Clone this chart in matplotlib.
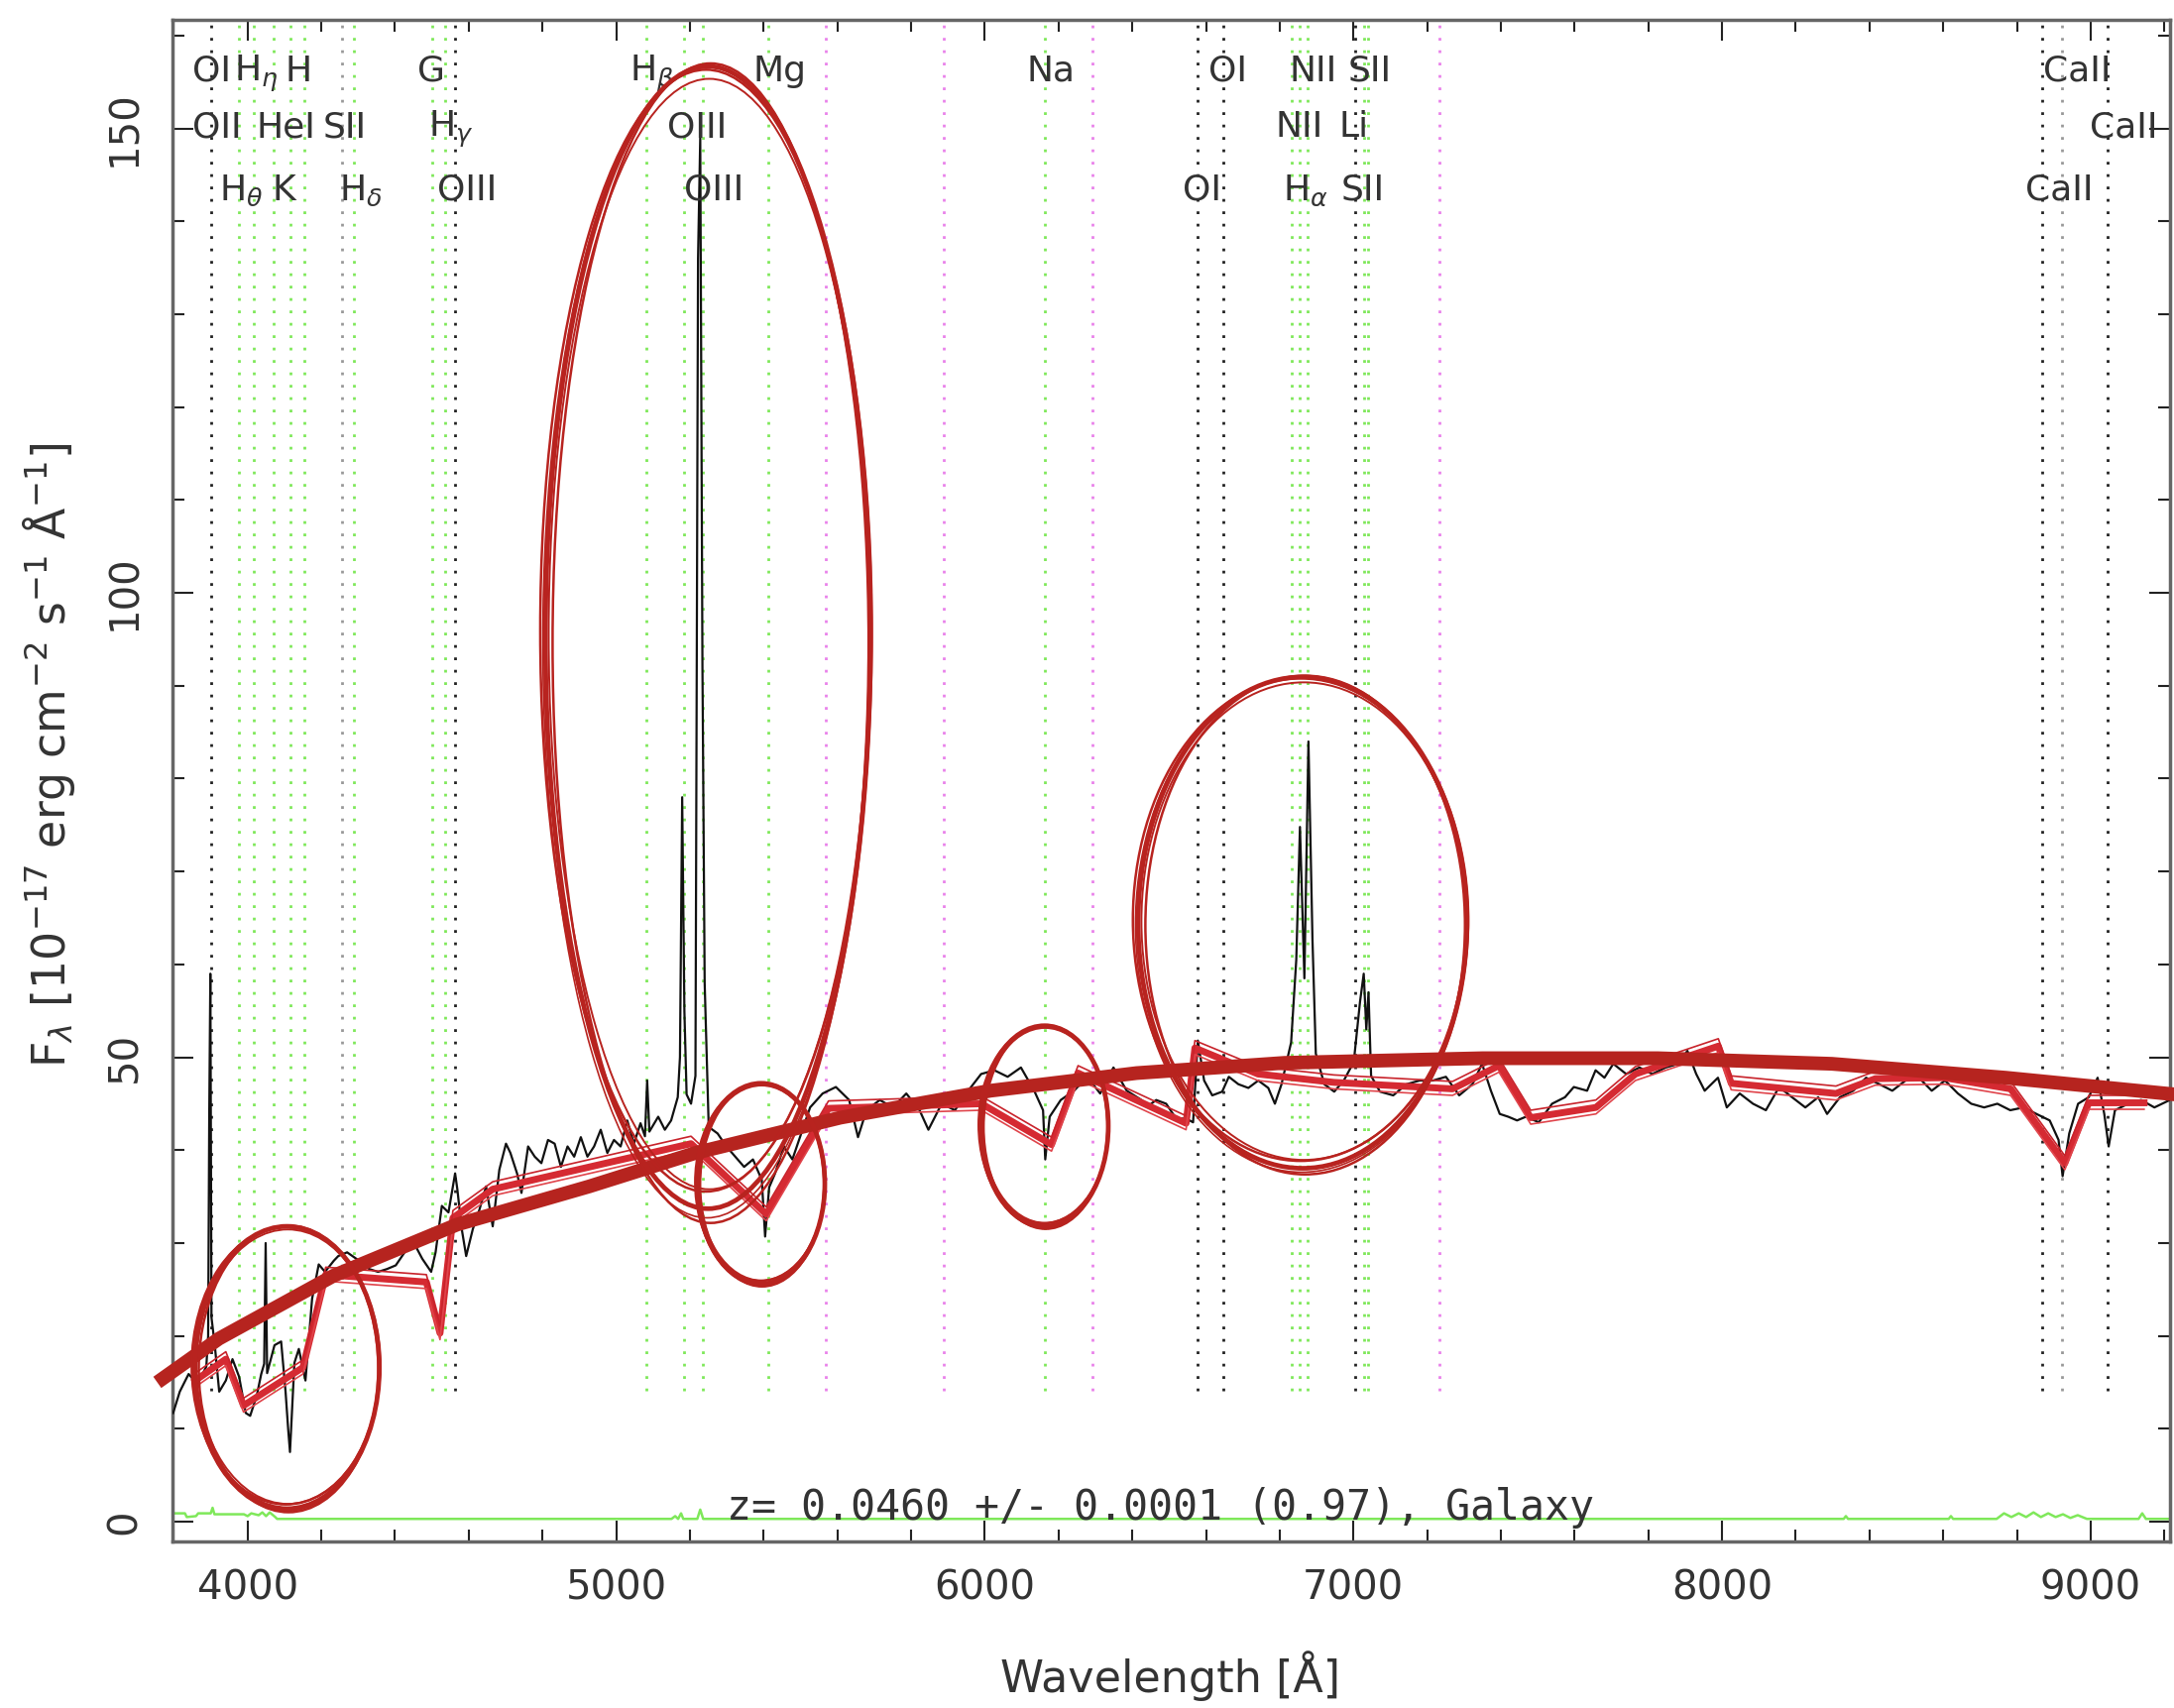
import matplotlib
matplotlib.use("Agg")
import matplotlib.pyplot as plt
from matplotlib.patches import Ellipse
from matplotlib.ticker import MultipleLocator

wave = [3798, 3816, 3840, 3864, 3888, 3893, 3896, 3899, 3902, 3911,
        3923, 3941, 3959, 3977, 3995, 4007, 4025, 4037, 4045, 4049,
        4053, 4073, 4091, 4103, 4110, 4115, 4127, 4139, 4157, 4175,
        4193, 4210, 4234, 4246, 4270, 4306, 4330, 4354, 4378, 4402,
        4426, 4450, 4474, 4498, 4510, 4527, 4545, 4563, 4569, 4581,
        4593, 4611, 4629, 4647, 4665, 4683, 4701, 4713, 4731, 4743,
        4761, 4779, 4797, 4815, 4833, 4850, 4868, 4886, 4904, 4922,
        4940, 4958, 4976, 4994, 5012, 5030, 5048, 5066, 5078, 5084,
        5090, 5114, 5132, 5149, 5167, 5173, 5179, 5185, 5191, 5203,
        5215, 5222, 5228, 5234, 5240, 5251, 5275, 5299, 5323, 5347,
        5371, 5395, 5404, 5415, 5431, 5455, 5478, 5502, 5526, 5560,
        5596, 5632, 5656, 5679, 5715, 5751, 5787, 5823, 5847, 5883,
        5919, 5955, 5990, 6026, 6062, 6098, 6134, 6158, 6164, 6176,
        6206, 6242, 6278, 6313, 6349, 6385, 6421, 6445, 6465, 6492,
        6519, 6546, 6565, 6578, 6595, 6617, 6644, 6662, 6688, 6715,
        6742, 6769, 6787, 6805, 6831, 6845, 6855, 6867, 6878, 6889,
        6898, 6921, 6948, 6974, 7001, 7018, 7028, 7035, 7041, 7048,
        7072, 7108, 7144, 7180, 7216, 7251, 7287, 7323, 7349, 7373,
        7397, 7420, 7444, 7468, 7503, 7539, 7574, 7598, 7634, 7657,
        7681, 7705, 7740, 7776, 7811, 7847, 7882, 7906, 7930, 7953,
        7989, 8013, 8048, 8084, 8119, 8155, 8190, 8226, 8261, 8285,
        8320, 8356, 8391, 8427, 8462, 8498, 8534, 8569, 8605, 8640,
        8676, 8711, 8747, 8782, 8818, 8853, 8889, 8913, 8924, 8942,
        8966, 8995, 9019, 9037, 9049, 9066, 9102, 9137, 9173, 9215]
flux = [11.7, 14.0, 15.9, 14.8, 16.7, 20.0, 44.0, 59.0, 22.0, 19.0,
        14.0, 15.2, 17.5, 15.6, 11.7, 11.4, 13.6, 15.9, 17.0, 30.0,
        16.0, 19.0, 19.4, 14.0, 10.0, 7.5, 17.1, 18.6, 15.2, 24.0,
        27.7, 26.9, 28.1, 28.6, 29.0, 28.0, 27.2, 26.9, 27.2, 27.6,
        29.0, 30.1, 28.3, 26.9, 29.0, 34.0, 33.3, 37.5, 35.8, 31.5,
        28.6, 31.5, 33.6, 36.1, 31.8, 37.9, 40.7, 39.7, 37.5, 35.4,
        40.4, 39.3, 38.6, 41.1, 40.7, 38.2, 40.4, 39.3, 41.4, 39.3,
        40.4, 42.2, 39.7, 41.1, 40.4, 43.2, 40.7, 42.9, 41.5, 47.5,
        42.0, 43.6, 42.2, 43.2, 45.7, 50.0, 78.0, 55.0, 46.0, 45.0,
        48.0, 136.0, 149.0, 92.0, 58.0, 42.5, 41.8, 40.4, 39.3, 38.2,
        39.0, 36.8, 30.7, 36.0, 37.5, 40.4, 39.0, 41.8, 44.6, 46.1,
        46.8, 45.4, 41.4, 44.3, 45.4, 44.6, 46.1, 44.3, 42.2, 45.0,
        44.3, 46.4, 48.2, 48.6, 47.9, 48.9, 46.4, 44.3, 39.0, 43.6,
        45.4, 46.4, 47.9, 46.1, 48.9, 46.4, 45.5, 44.8, 45.4, 45.0,
        43.4, 43.4, 43.0, 51.8, 47.5, 45.9, 46.3, 47.9, 47.1, 46.7,
        47.5, 46.7, 45.0, 47.1, 51.6, 60.5, 74.8, 58.5, 84.0, 62.6,
        50.4, 47.1, 46.3, 47.5, 49.5, 56.0, 59.0, 53.0, 57.0, 48.0,
        46.3, 45.9, 47.1, 47.5, 47.5, 47.9, 45.9, 47.1, 49.3, 46.4,
        43.9, 43.6, 43.2, 43.6, 43.0, 45.0, 45.7, 46.8, 46.4, 48.6,
        47.8, 49.3, 48.2, 48.9, 48.2, 48.9, 49.3, 50.7, 48.2, 46.4,
        47.8, 44.6, 46.1, 45.0, 44.3, 46.8, 45.7, 44.6, 45.7, 43.9,
        45.7, 46.4, 47.8, 47.1, 46.4, 47.5, 47.8, 46.4, 47.5, 46.1,
        45.0, 44.6, 45.0, 44.3, 44.6, 43.9, 43.2, 41.1, 37.2, 41.8,
        45.0, 45.7, 47.8, 43.9, 40.4, 44.3, 45.0, 45.4, 44.6, 45.4]

# error spectrum (green)
err_wave = [3797, 3830, 3835, 3860, 3866, 3900, 3905, 3910, 3990, 4000,
            4010, 4030, 4040, 4050, 4060, 4075, 4080, 5150, 5160, 5168,
            5176, 5182, 5220, 5228, 5236, 8330, 8336, 8342, 8615, 8621,
            8627, 8745, 8765, 8785, 8805, 8825, 8845, 8865, 8885, 8905,
            8925, 8945, 8965, 8990, 9130, 9140, 9150, 9215]
err_flux = [0.9, 0.9, 0.5, 0.6, 0.9, 0.9, 1.5, 0.8, 0.8, 0.6,
            0.9, 0.7, 1.0, 0.6, 1.0, 0.5, 0.3, 0.3, 0.6, 0.3,
            0.9, 0.3, 0.3, 1.3, 0.3, 0.3, 0.6, 0.3, 0.3, 0.6,
            0.3, 0.3, 0.9, 0.5, 0.9, 0.5, 1.0, 0.5, 0.9, 0.5,
            0.8, 0.4, 0.7, 0.3, 0.3, 0.9, 0.3, 0.3]

# line markers
black_lines = [3900, 4563, 6578, 6647, 7006, 8869, 9045]
gray_lines = [4255, 8922]
green_lines = [3977, 4016, 4070, 4115, 4153, 4288, 4501, 4536, 5083, 5184,
               5235, 5412, 6164, 6832, 6854, 6875, 7030, 7041]
magenta_lines = [5568, 5889, 6291, 7234]

label_text = ["OI", r"H$_\eta$", "H", "G", r"H$_\beta$", "Mg", "Na", "OI", "NII", "SII", "CaII",
              "OII", "HeI", "SII", r"H$_\gamma$", "OIII", "NII", "Li", "CaII",
              r"H$_\theta$", "K", r"H$_\delta$", "OIII", "OIII", "OI", r"H$_\alpha$", "SII", "CaII"]
label_wave = [3850, 3962, 4102, 4461, 5037, 5372, 6114, 6607, 6827, 6985, 8871,
              3850, 4024, 4204, 4490, 5139, 6787, 6961, 8997,
              3922, 4066, 4247, 4514, 5184, 6537, 6808, 6966, 8823]
label_row = [0] * 11 + [1] * 8 + [2] * 9
row_y = [155.1, 149.1, 142.3]

# hand drawn overlay: smooth continuum, jagged trace, circles
fit_wave = [3755, 3922, 4234, 4569, 4927, 5215, 5608, 6015, 6412, 6813,
            7350, 7826, 8298, 8770, 9230]
fit_flux = [15.0, 19.7, 26.5, 32.0, 36.1, 39.7, 43.5, 46.4, 48.3, 49.4,
            49.9, 49.9, 49.3, 47.8, 46.0]

poly_wave = [3858, 3941, 3989, 4150, 4212, 4485, 4522, 4557, 4665, 5203,
             5407, 5576, 5991, 6181, 6253, 6546, 6570, 6741, 6947, 7269,
             7395, 7481, 7658, 7765, 7990, 8025, 8309, 8416, 8603, 8783,
             8930, 8995, 9145]
poly_flux = [15.2, 17.5, 12.5, 16.6, 26.6, 25.8, 20.3, 32.7, 35.8, 40.7,
             33.1, 44.5, 45.0, 40.6, 48.3, 42.9, 51.0, 48.2, 47.3, 46.6,
             49.1, 43.5, 44.6, 48.2, 51.2, 47.2, 46.1, 47.7, 47.8, 46.6,
             38.6, 45.1, 45.1]

ell_wave = [4107, 5249, 5393, 6162, 6862]
ell_flux = [16.6, 95.2, 36.4, 42.6, 64.5]
ell_width = [501, 882, 346, 346, 892]
ell_height = [30.4, 123, 21.6, 21.6, 52.9]

fig = plt.figure(figsize=(21.93, 17.23), dpi=100)
ax = fig.add_axes([0.0793, 0.0975, 0.9188, 0.8909])

for x in black_lines:
    ax.plot([x, x], [14.1, 162], color="#222222", lw=2.0, ls=(0, (1, 3.5)), zorder=1)
for x in gray_lines:
    ax.plot([x, x], [14.1, 162], color="#999999", lw=2.0, ls=(0, (1, 3.5)), zorder=1)
for x in green_lines:
    ax.plot([x, x], [14.1, 162], color="#7fe85a", lw=2.0, ls=(0, (1, 3.5)), zorder=1)
for x in magenta_lines:
    ax.plot([x, x], [14.1, 162], color="#e982ea", lw=2.0, ls=(0, (1, 3.5)), zorder=1)

ax.plot(err_wave, err_flux, color="#7fe85a", lw=1.8, zorder=2)
ax.plot(wave, flux, color="#111111", lw=1.6, zorder=3)

for s, x, r in zip(label_text, label_wave, label_row):
    ax.text(x, row_y[r], s, ha="left", va="baseline", fontsize=26,
            color="#333333", clip_on=False, zorder=4)

ax.text(5299, 0.2, "z= 0.0460 +/- 0.0001 (0.97), Galaxy", ha="left",
        va="baseline", fontsize=30, family="DejaVu Sans Mono",
        color="#333333", zorder=4)

# the red overlay
ax.plot(poly_wave, poly_flux, color="#d52a32", lw=5.0, zorder=5)
ax.plot(poly_wave, [f + 0.8 for f in poly_flux], color="#c8232b", lw=1.2, zorder=5)
ax.plot(poly_wave, [f - 0.7 for f in poly_flux], color="#e0444b", lw=1.2, zorder=5)
ax.plot(fit_wave, fit_flux, color="#b6241f", lw=10, solid_capstyle="butt",
        clip_on=False, zorder=6)

strokes = [(0.0, 0.0, 1.0, 1.0, 3.4), (0.008, -0.005, 0.972, 1.015, 1.8),
           (-0.006, 0.006, 1.02, 0.982, 1.8), (0.004, 0.003, 0.988, 0.972, 1.4),
           (-0.003, -0.004, 1.01, 1.008, 1.2)]
for cx, cy, w, h in zip(ell_wave, ell_flux, ell_width, ell_height):
    for dx, dy, sw, sh, lw in strokes:
        ax.add_patch(Ellipse((cx + dx * w, cy + dy * h), w * sw, h * sh,
                             fill=False, ec="#b8231f", lw=lw, zorder=7, clip_on=False))

ax.set_xlim(3796, 9215)
ax.set_ylim(-2.13, 161.7)
ax.xaxis.set_major_locator(MultipleLocator(1000))
ax.xaxis.set_minor_locator(MultipleLocator(200))
ax.set_yticks([0, 50, 100, 150])
ax.set_yticklabels(["0", "50", "100", "150"], rotation=90, va="center")
ax.yaxis.set_minor_locator(MultipleLocator(10))
ax.tick_params(which="both", direction="in", top=True, right=True,
               labelsize=29, labelcolor="#333333", color="#222222", width=1.5, pad=20)
ax.tick_params(which="major", length=15)
ax.tick_params(which="minor", length=8.5)
for sp in ax.spines.values():
    sp.set_color("#666666")
    sp.set_linewidth(2.5)

fig.text(1181 / 2193, 1 - 1707 / 1723, "Wavelength [Å]", ha="center",
         va="baseline", fontsize=32, color="#333333")
fig.text(50 / 2193, 1 - 762 / 1723,
         r"F$_\lambda$ [10$^{-17}$ erg cm$^{-2}$ s$^{-1}$ Å$^{-1}$]",
         rotation=90, ha="center", va="center", fontsize=33, color="#333333")

fig.savefig("out.png", dpi=100)
